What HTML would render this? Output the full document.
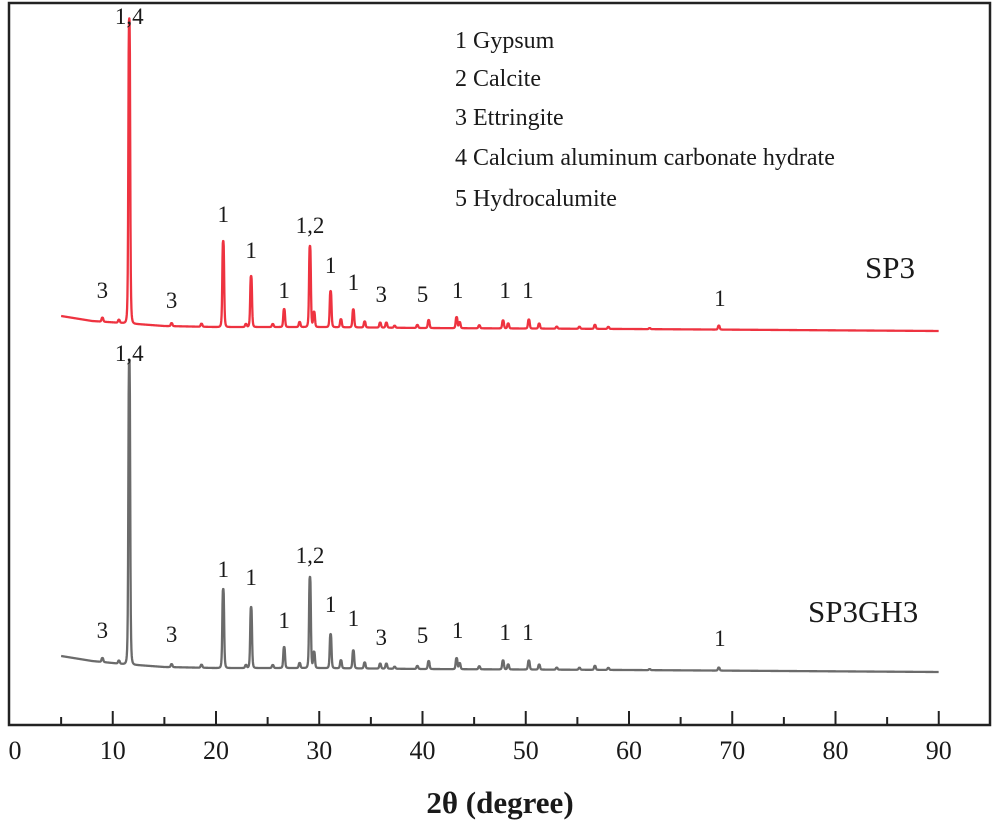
<!DOCTYPE html>
<html><head><meta charset="utf-8"><style>
body{margin:0;background:#fff}
svg{display:block}
text{font-family:"Liberation Serif",serif;fill:#1a1a1a}
</style></head><body>
<svg id="chart" width="994" height="827" viewBox="0 0 994 827">
<rect x="9" y="3" width="981" height="722" fill="none" stroke="#222" stroke-width="2.5"/>
<g id="ticks"></g>
<g id="series"></g>
<g id="labels"></g>
<g font-size="24">
<text x="455" y="48" font-size="24">1 Gypsum</text>
<text x="455" y="86" font-size="24">2 Calcite</text>
<text x="455" y="125" font-size="24">3 Ettringite</text>
<text x="455" y="165" font-size="24">4 Calcium aluminum carbonate hydrate</text>
<text x="455" y="206" font-size="24">5 Hydrocalumite</text>
</g>
<text x="865" y="278" font-size="31">SP3</text>
<text x="808" y="622" font-size="31">SP3GH3</text>
<text x="500" y="813" font-size="31" font-weight="bold" text-anchor="middle">2θ (degree)</text>
</svg>
<script>
const xTicks=[0,10,20,30,40,50,60,70,80,90];
const minorTicks=[5,15,25,35,45,55,65,75,85];
const peakPos=[9.0,10.6,11.6,15.7,18.6,20.7,22.9,23.4,25.5,26.6,28.1,29.1,29.5,31.1,32.1,33.3,34.4,35.9,36.5,37.3,39.5,40.6,43.3,43.6,45.5,47.8,48.3,50.3,51.3,53.0,55.2,56.7,58.0,62.0,68.7];
const sp3Heights=[4,3,305,3,3,86,3,51,3,18,5,81,15,36,8,18,6,5,5,2,3,8,11,6,3,8,5,9,5,2,2,4,2,1,4];
const sp3gh3Heights=[4,3,304,3,3,79,3,61,3,21,5,91,16,34,8,18,6,5,5,2,3,8,11,6,3,9,5,9,5,2,2,4,2,1,3];
const bgX=[5,8,11,15,20,30,40,60,90];
const sp3Bg=[414,409,407,404,403,403,402,401,399];
const sp3gh3Bg=[74,69,66,63,62,62,61,60,58];
const peakLabels=[["1,4",11.6],["3",9.0],["3",15.7],["1",20.7],["1",23.4],["1",26.6],["1,2",29.1],["1",31.1],["1",33.3],["3",36.0],["5",40.0],["1",43.4],["1",48.0],["1",50.2],["1",68.8]];
const sp3LabelVal=[706,432,422,508,472,432,497,457,440,428,428,432,432,432,424];
const sp3gh3LabelVal=[369,92,88,153,145,102,167,118,104,85,87,92,90,90,84];

const X0=9.5,XS=10.325,Y0=730;
const xs=v=>X0+v*XS, ys=v=>Y0-v;
const NS="http://www.w3.org/2000/svg";
function mk(tag,attrs,parent){const e=document.createElementNS(NS,tag);for(const k in attrs)e.setAttribute(k,attrs[k]);parent.appendChild(e);return e;}
const tg=document.getElementById('ticks');
xTicks.forEach(t=>{
  if(t>0){const l=mk('line',{x1:xs(t),x2:xs(t),y1:725,y2:711,stroke:'#222','stroke-width':2},tg);
  
  }
  const tx=mk('text',{x:xs(t)+(t===0?-1:0),y:759,'font-size':26,'text-anchor':t===0?'start':'middle'},tg);
  tx.textContent=t;
  
  
});
minorTicks.forEach(t=>{
  const l=mk('line',{x1:xs(t),x2:xs(t),y1:725,y2:717,stroke:'#222','stroke-width':2},tg);
  
  
});
function bg(x,arr){for(let i=0;i<bgX.length-1;i++){if(x<=bgX[i+1]){const f=(x-bgX[i])/(bgX[i+1]-bgX[i]);return arr[i]+f*(arr[i+1]-arr[i]);}}return arr[arr.length-1];}
function curve(bgArr,hts){
  let d='';
  for(let x=5;x<=90.001;x+=0.03){
    let v=bg(x,bgArr);
    for(let i=0;i<peakPos.length;i++){const w=0.1;const dx=(x-peakPos[i])/w;v+=hts[i]/(1+dx*dx*dx*dx);}
    d+=(d?'L':'M')+xs(x).toFixed(2)+','+ys(v).toFixed(2);
  }
  return d;
}
const sg=document.getElementById('series');
const p1=mk('path',{d:curve(sp3Bg,sp3Heights),fill:'none',stroke:'#ee3340','stroke-width':2.3,'stroke-linejoin':'round'},sg);


const p2=mk('path',{d:curve(sp3gh3Bg,sp3gh3Heights),fill:'none',stroke:'#6b6b6b','stroke-width':2.3,'stroke-linejoin':'round'},sg);


const lg=document.getElementById('labels');
peakLabels.forEach((p,i)=>{
  const a=mk('text',{x:xs(p[1]),y:ys(sp3LabelVal[i]),'font-size':23,'text-anchor':'middle'},lg);
  a.textContent=p[0];
  
  
  const b=mk('text',{x:xs(p[1]),y:ys(sp3gh3LabelVal[i]),'font-size':23,'text-anchor':'middle'},lg);
  b.textContent=p[0];
  
  
});
</script>
</body></html>
